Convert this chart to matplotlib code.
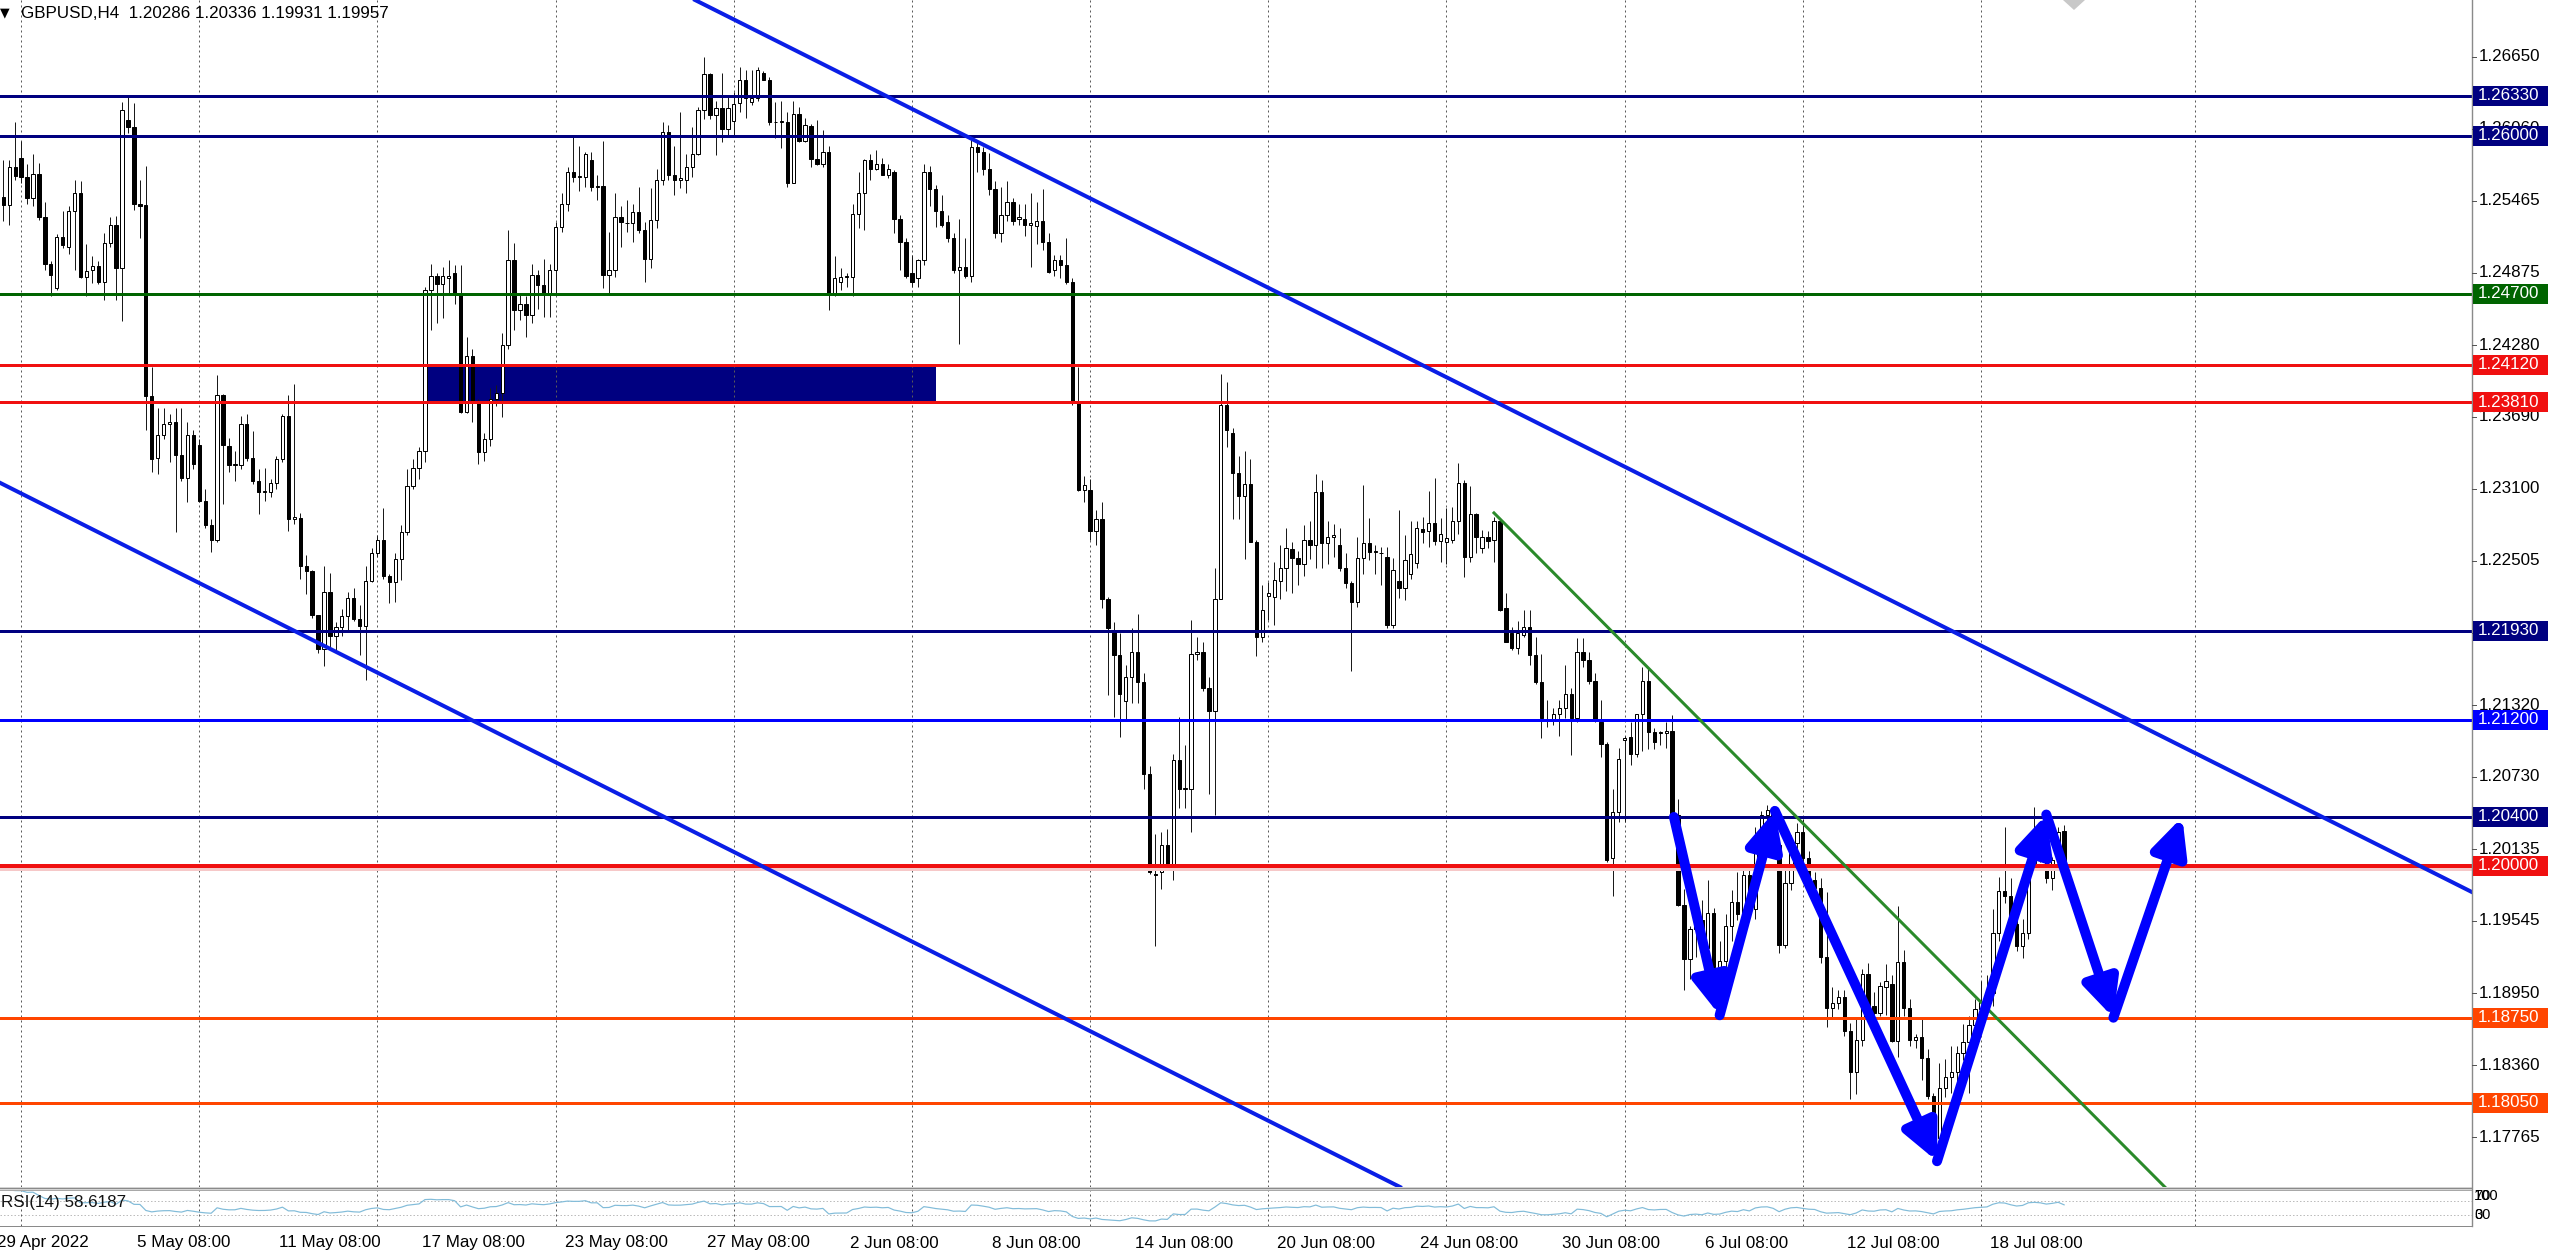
#!/usr/bin/python

import numpy as np
import pandas as pd
import matplotlib
matplotlib.use('Agg')
import matplotlib.pyplot as plt
import matplotlib.patches as ptc
import matplotlib.transforms as mtrans
from matplotlib.lines import Line2D

plt.rcParams['font.family'] = ['Liberation Sans', 'DejaVu Sans']

# GBPUSD H4 bars, oldest first (29 Apr 2022 .. 20 Jul 2022)
bar_open = [
    1.2550, 1.2543, 1.2574, 1.2582, 1.2566, 1.2549, 1.2569, 1.2533, 1.2495, 1.2475,
    1.2517, 1.2509, 1.2538, 1.2553, 1.2484, 1.2490, 1.2493, 1.2480, 1.2512, 1.2527,
    1.2491, 1.2613, 1.2607, 1.2544, 1.2543, 1.2386, 1.2335, 1.2354, 1.2363, 1.2365,
    1.2338, 1.2319, 1.2354, 1.2346, 1.2300, 1.2280, 1.2268, 1.2387, 1.2345, 1.2329,
    1.2329, 1.2363, 1.2335, 1.2316, 1.2307, 1.2307, 1.2315, 1.2334, 1.2370, 1.2285,
    1.2286, 1.2246, 1.2242, 1.2206, 1.2178, 1.2225, 1.2189, 1.2196, 1.2205, 1.2220,
    1.2203, 1.2197, 1.2234, 1.2257, 1.2268, 1.2238, 1.2233, 1.2252, 1.2274, 1.2312,
    1.2327, 1.2341, 1.2473, 1.2485, 1.2478, 1.2483, 1.2487, 1.2471, 1.2373, 1.2419,
    1.2380, 1.2340, 1.2351, 1.2384, 1.2389, 1.2428, 1.2498, 1.2457, 1.2462, 1.2453,
    1.2486, 1.2477, 1.2471, 1.2490, 1.2525, 1.2544, 1.2570, 1.2566, 1.2566, 1.2580,
    1.2558, 1.2559, 1.2486, 1.2490, 1.2533, 1.2528, 1.2528, 1.2537, 1.2523, 1.2499,
    1.2531, 1.2564, 1.2603, 1.2568, 1.2564, 1.2564, 1.2574, 1.2585, 1.2621, 1.2651,
    1.2617, 1.2623, 1.2606, 1.2612, 1.2627, 1.2646, 1.2628, 1.2631, 1.2652, 1.2646,
    1.2611, 1.2611, 1.2611, 1.2561, 1.2618, 1.2596, 1.2608, 1.2581, 1.2577, 1.2587,
    1.2471, 1.2480, 1.2484, 1.2484, 1.2536, 1.2553, 1.2580, 1.2573, 1.2577, 1.2568,
    1.2570, 1.2532, 1.2513, 1.2487, 1.2483, 1.2498, 1.2570, 1.2556, 1.2538, 1.2529,
    1.2516, 1.2490, 1.2492, 1.2485, 1.2591, 1.2587, 1.2573, 1.2556, 1.2520, 1.2535,
    1.2546, 1.2532, 1.2532, 1.2527, 1.2526, 1.2530, 1.2513, 1.2490, 1.2498, 1.2494,
    1.2480, 1.2381, 1.2309, 1.2309, 1.2275, 1.2285, 1.2219, 1.2193, 1.2173, 1.2135,
    1.2155, 1.2176, 1.2151, 1.2075, 1.1993, 1.1995, 1.2017, 1.2000, 1.2087, 1.2063,
    1.2063, 1.2174, 1.2176, 1.2146, 1.2127, 1.2219, 1.2379, 1.2356, 1.2323, 1.2304,
    1.2314, 1.2266, 1.2188, 1.2222, 1.2221, 1.2234, 1.2245, 1.2260, 1.2253, 1.2248,
    1.2268, 1.2264, 1.2307, 1.2265, 1.2270, 1.2264, 1.2245, 1.2232, 1.2217, 1.2253,
    1.2265, 1.2258, 1.2257, 1.2254, 1.2198, 1.2234, 1.2228, 1.2240, 1.2249, 1.2277,
    1.2275, 1.2282, 1.2267, 1.2266, 1.2268, 1.2283, 1.2315, 1.2254, 1.2289, 1.2261,
    1.2270, 1.2268, 1.2283, 1.2212, 1.2191, 1.2179, 1.2190, 1.2196, 1.2173, 1.2151,
    1.2119, 1.2120, 1.2125, 1.2130, 1.2141, 1.2121, 1.2176, 1.2169, 1.2152, 1.2118,
    1.2100, 1.2006, 1.2044, 1.2103, 1.2106, 1.2092, 1.2125, 1.2152, 1.2110, 1.2109,
    1.2109, 1.2111, 1.2042, 1.1968, 1.1923, 1.1948, 1.1955, 1.1932, 1.1961, 1.1917,
    1.1922, 1.1950, 1.1970, 1.1960, 1.1992, 1.1964, 1.2021, 1.2042, 1.2046, 1.2017,
    1.1935, 1.1986, 1.2019, 1.2028, 1.2006, 1.1988, 1.1982, 1.1925, 1.1883, 1.1887,
    1.1892, 1.1864, 1.1830, 1.1857, 1.1911, 1.1885, 1.1879, 1.1900, 1.1903, 1.1856,
    1.1921, 1.1883, 1.1857, 1.1859, 1.1842, 1.1811, 1.1776, 1.1817, 1.1826, 1.1830,
    1.1846, 1.1855, 1.1869, 1.1882, 1.1888, 1.1895, 1.1945, 1.1979, 1.1975, 1.1952,
    1.1934, 1.1945, 1.2002, 1.2012, 1.2007, 1.1990, 1.2005, 1.20286,
]
bar_high = [
    1.2580, 1.2580, 1.2611, 1.2596, 1.2577, 1.2585, 1.2578, 1.2546, 1.2497, 1.2519,
    1.2538, 1.2542, 1.2564, 1.2563, 1.2511, 1.2501, 1.2497, 1.2520, 1.2533, 1.2534,
    1.2628, 1.2634, 1.2627, 1.2564, 1.2575, 1.2410, 1.2376, 1.2376, 1.2371, 1.2376,
    1.2376, 1.2365, 1.2358, 1.2351, 1.2310, 1.2285, 1.2403, 1.2388, 1.2352, 1.2341,
    1.2370, 1.2371, 1.2357, 1.2326, 1.2327, 1.2318, 1.2337, 1.2371, 1.2387, 1.2396,
    1.2290, 1.2255, 1.2243, 1.2206, 1.2246, 1.2241, 1.2200, 1.2211, 1.2225, 1.2228,
    1.2214, 1.2246, 1.2261, 1.2272, 1.2294, 1.2240, 1.2257, 1.2280, 1.2326, 1.2334,
    1.2344, 1.2476, 1.2495, 1.2487, 1.2492, 1.2498, 1.2494, 1.2494, 1.2435, 1.2425,
    1.2384, 1.2356, 1.2393, 1.2395, 1.2438, 1.2523, 1.2512, 1.2471, 1.2468, 1.2495,
    1.2490, 1.2499, 1.2495, 1.2529, 1.2553, 1.2574, 1.2599, 1.2592, 1.2587, 1.2587,
    1.2568, 1.2596, 1.2521, 1.2553, 1.2542, 1.2547, 1.2544, 1.2558, 1.2529, 1.2557,
    1.2573, 1.2611, 1.2609, 1.2592, 1.2620, 1.2585, 1.2607, 1.2624, 1.2665, 1.2652,
    1.2629, 1.2652, 1.2632, 1.2636, 1.2657, 1.2654, 1.2654, 1.2657, 1.2653, 1.2648,
    1.2628, 1.2629, 1.2620, 1.2629, 1.2624, 1.2615, 1.2610, 1.2613, 1.2605, 1.2592,
    1.2501, 1.2491, 1.2487, 1.2544, 1.2570, 1.2581, 1.2585, 1.2588, 1.2582, 1.2577,
    1.2572, 1.2535, 1.2516, 1.2502, 1.2499, 1.2577, 1.2575, 1.2560, 1.2551, 1.2535,
    1.2520, 1.2532, 1.2516, 1.2600, 1.2596, 1.2591, 1.2586, 1.2563, 1.2558, 1.2563,
    1.2549, 1.2544, 1.2544, 1.2553, 1.2546, 1.2556, 1.2520, 1.2502, 1.2502, 1.2516,
    1.2483, 1.2410, 1.2320, 1.2318, 1.2292, 1.2299, 1.2221, 1.2200, 1.2191, 1.2165,
    1.2195, 1.2207, 1.2158, 1.2082, 1.2026, 1.2028, 1.2030, 1.2092, 1.2122, 1.2099,
    1.2202, 1.2188, 1.2184, 1.2155, 1.2245, 1.2404, 1.2398, 1.2360, 1.2337, 1.2341,
    1.2334, 1.2268, 1.2231, 1.2233, 1.2250, 1.2264, 1.2278, 1.2266, 1.2259, 1.2280,
    1.2283, 1.2322, 1.2317, 1.2283, 1.2281, 1.2278, 1.2257, 1.2234, 1.2270, 1.2313,
    1.2286, 1.2264, 1.2262, 1.2262, 1.2253, 1.2292, 1.2272, 1.2283, 1.2283, 1.2287,
    1.2308, 1.2319, 1.2286, 1.2294, 1.2295, 1.2331, 1.2317, 1.2312, 1.2290, 1.2276,
    1.2275, 1.2287, 1.2286, 1.2224, 1.2196, 1.2201, 1.2210, 1.2210, 1.2188, 1.2174,
    1.2136, 1.2130, 1.2136, 1.2165, 1.2146, 1.2187, 1.2187, 1.2176, 1.2158, 1.2136,
    1.2102, 1.2063, 1.2097, 1.2107, 1.2118, 1.2125, 1.2163, 1.2162, 1.2113, 1.2111,
    1.2118, 1.2124, 1.2055, 1.1981, 1.1950, 1.1972, 1.1972, 1.1988, 1.1965, 1.1938,
    1.1960, 1.1980, 1.1995, 1.1998, 1.2000, 1.2032, 1.2045, 1.2050, 1.2049, 1.2022,
    1.1997, 1.2025, 1.2035, 1.2038, 1.2012, 1.1995, 1.1990, 1.1978, 1.1900, 1.1898,
    1.1898, 1.1871, 1.1874, 1.1915, 1.1920, 1.1896, 1.1904, 1.1919, 1.1910, 1.1967,
    1.1931, 1.1890, 1.1862, 1.1875, 1.1849, 1.1813, 1.1838, 1.1841, 1.1852, 1.1852,
    1.1870, 1.1876, 1.1890, 1.1905, 1.1910, 1.1964, 1.1991, 1.2032, 1.1990, 1.1956,
    1.1956, 1.2010, 1.2048, 1.2018, 1.2012, 1.2007, 1.2032, 1.20336,
]
bar_low = [
    1.2530, 1.2527, 1.2564, 1.2561, 1.2544, 1.2542, 1.2531, 1.2490, 1.2468, 1.2473,
    1.2508, 1.2503, 1.2490, 1.2483, 1.2468, 1.2479, 1.2478, 1.2465, 1.2509, 1.2465,
    1.2448, 1.2602, 1.2539, 1.2516, 1.2358, 1.2324, 1.2322, 1.2351, 1.2332, 1.2274,
    1.2316, 1.2299, 1.2326, 1.2299, 1.2278, 1.2258, 1.2266, 1.2297, 1.2324, 1.2316,
    1.2326, 1.2333, 1.2314, 1.2289, 1.2300, 1.2303, 1.2310, 1.2332, 1.2275, 1.2281,
    1.2236, 1.2223, 1.2204, 1.2175, 1.2164, 1.2178, 1.2175, 1.2189, 1.2192, 1.2201,
    1.2173, 1.2153, 1.2233, 1.2254, 1.2236, 1.2216, 1.2217, 1.2235, 1.2272, 1.2310,
    1.2318, 1.2332, 1.2440, 1.2446, 1.2450, 1.2470, 1.2462, 1.2372, 1.2372, 1.2365,
    1.2330, 1.2333, 1.2345, 1.2378, 1.2369, 1.2425, 1.2440, 1.2449, 1.2435, 1.2446,
    1.2458, 1.2451, 1.2451, 1.2471, 1.2521, 1.2538, 1.2562, 1.2555, 1.2558, 1.2555,
    1.2547, 1.2475, 1.2471, 1.2484, 1.2509, 1.2521, 1.2513, 1.2520, 1.2480, 1.2491,
    1.2524, 1.2560, 1.2564, 1.2551, 1.2557, 1.2553, 1.2566, 1.2584, 1.2614, 1.2614,
    1.2584, 1.2595, 1.2599, 1.2600, 1.2620, 1.2615, 1.2625, 1.2629, 1.2646, 1.2609,
    1.2598, 1.2590, 1.2558, 1.2561, 1.2595, 1.2595, 1.2574, 1.2576, 1.2574, 1.2457,
    1.2468, 1.2473, 1.2476, 1.2468, 1.2524, 1.2523, 1.2564, 1.2572, 1.2568, 1.2565,
    1.2520, 1.2490, 1.2483, 1.2476, 1.2476, 1.2494, 1.2542, 1.2525, 1.2525, 1.2513,
    1.2487, 1.2429, 1.2483, 1.2480, 1.2570, 1.2568, 1.2551, 1.2516, 1.2513, 1.2530,
    1.2527, 1.2527, 1.2518, 1.2492, 1.2511, 1.2506, 1.2487, 1.2485, 1.2483, 1.2478,
    1.2379, 1.2308, 1.2299, 1.2268, 1.2264, 1.2212, 1.2140, 1.2122, 1.2106, 1.2120,
    1.2134, 1.2134, 1.2063, 1.1993, 1.1934, 1.1981, 1.1997, 1.1988, 1.2047, 1.2047,
    1.2028, 1.2169, 1.2144, 1.2059, 1.2042, 1.2219, 1.2344, 1.2285, 1.2285, 1.2252,
    1.2266, 1.2172, 1.2184, 1.2202, 1.2198, 1.2219, 1.2226, 1.2224, 1.2231, 1.2238,
    1.2252, 1.2245, 1.2245, 1.2248, 1.2254, 1.2242, 1.2228, 1.2160, 1.2213, 1.2240,
    1.2251, 1.2240, 1.2231, 1.2195, 1.2195, 1.2220, 1.2218, 1.2236, 1.2245, 1.2265,
    1.2262, 1.2264, 1.2250, 1.2248, 1.2265, 1.2273, 1.2237, 1.2250, 1.2257, 1.2257,
    1.2261, 1.2250, 1.2209, 1.2184, 1.2177, 1.2174, 1.2188, 1.2165, 1.2149, 1.2105,
    1.2114, 1.2116, 1.2107, 1.2121, 1.2091, 1.2118, 1.2163, 1.2149, 1.2118, 1.2089,
    1.2003, 1.1975, 1.2036, 1.2036, 1.2083, 1.2089, 1.2094, 1.2096, 1.2096, 1.2099,
    1.2097, 1.2041, 1.1967, 1.1898, 1.1907, 1.1925, 1.1928, 1.1921, 1.1902, 1.1900,
    1.1904, 1.1938, 1.1955, 1.1952, 1.1960, 1.1956, 1.2014, 1.2030, 1.2014, 1.1928,
    1.1932, 1.1980, 1.2010, 1.2002, 1.1984, 1.1978, 1.1920, 1.1867, 1.1875, 1.1882,
    1.1860, 1.1808, 1.1812, 1.1852, 1.1883, 1.1876, 1.1876, 1.1877, 1.1855, 1.1843,
    1.1876, 1.1852, 1.1850, 1.1824, 1.1808, 1.1768, 1.1760, 1.1810, 1.1813, 1.1808,
    1.1840, 1.1813, 1.1860, 1.1875, 1.1880, 1.1885, 1.1938, 1.1969, 1.1948, 1.1930,
    1.1924, 1.1940, 1.1998, 1.2003, 1.1986, 1.1980, 1.1998, 1.19931,
]
bar_close = [
    1.2543, 1.2574, 1.2567, 1.2566, 1.2549, 1.2569, 1.2533, 1.2495, 1.2486, 1.2517,
    1.2510, 1.2538, 1.2553, 1.2484, 1.2489, 1.2493, 1.2480, 1.2512, 1.2527, 1.2491,
    1.2621, 1.2607, 1.2544, 1.2542, 1.2386, 1.2334, 1.2354, 1.2363, 1.2365, 1.2338,
    1.2319, 1.2354, 1.2330, 1.2300, 1.2280, 1.2268, 1.2387, 1.2346, 1.2329, 1.2330,
    1.2363, 1.2335, 1.2316, 1.2307, 1.2308, 1.2315, 1.2334, 1.2370, 1.2285, 1.2287,
    1.2246, 1.2242, 1.2206, 1.2178, 1.2225, 1.2189, 1.2196, 1.2205, 1.2220, 1.2203,
    1.2197, 1.2234, 1.2257, 1.2268, 1.2238, 1.2233, 1.2252, 1.2274, 1.2312, 1.2327,
    1.2341, 1.2473, 1.2485, 1.2478, 1.2485, 1.2485, 1.2471, 1.2373, 1.2419, 1.2380,
    1.2340, 1.2351, 1.2384, 1.2389, 1.2428, 1.2498, 1.2457, 1.2462, 1.2453, 1.2486,
    1.2477, 1.2471, 1.2490, 1.2525, 1.2544, 1.2570, 1.2566, 1.2567, 1.2585, 1.2558,
    1.2559, 1.2486, 1.2490, 1.2533, 1.2529, 1.2528, 1.2537, 1.2523, 1.2499, 1.2531,
    1.2564, 1.2603, 1.2568, 1.2564, 1.2565, 1.2574, 1.2585, 1.2621, 1.2651, 1.2617,
    1.2623, 1.2606, 1.2623, 1.2626, 1.2646, 1.2631, 1.2631, 1.2654, 1.2646, 1.2611,
    1.2611, 1.2612, 1.2561, 1.2618, 1.2596, 1.2609, 1.2581, 1.2577, 1.2587, 1.2471,
    1.2483, 1.2484, 1.2485, 1.2536, 1.2553, 1.2580, 1.2573, 1.2577, 1.2568, 1.2573,
    1.2532, 1.2513, 1.2485, 1.2480, 1.2498, 1.2570, 1.2556, 1.2538, 1.2527, 1.2516,
    1.2490, 1.2492, 1.2485, 1.2591, 1.2587, 1.2573, 1.2556, 1.2520, 1.2535, 1.2546,
    1.2530, 1.2533, 1.2527, 1.2528, 1.2530, 1.2513, 1.2488, 1.2498, 1.2494, 1.2480,
    1.2381, 1.2309, 1.2313, 1.2275, 1.2285, 1.2219, 1.2195, 1.2173, 1.2141, 1.2155,
    1.2176, 1.2151, 1.2075, 1.1995, 1.1992, 1.2017, 1.2000, 1.2087, 1.2063, 1.2064,
    1.2174, 1.2176, 1.2146, 1.2127, 1.2219, 1.2379, 1.2358, 1.2323, 1.2304, 1.2314,
    1.2266, 1.2188, 1.2210, 1.2224, 1.2235, 1.2245, 1.2261, 1.2253, 1.2248, 1.2268,
    1.2264, 1.2307, 1.2265, 1.2270, 1.2272, 1.2245, 1.2232, 1.2217, 1.2253, 1.2265,
    1.2258, 1.2259, 1.2257, 1.2198, 1.2243, 1.2228, 1.2251, 1.2256, 1.2278, 1.2274,
    1.2282, 1.2267, 1.2273, 1.2269, 1.2283, 1.2315, 1.2254, 1.2289, 1.2270, 1.2270,
    1.2267, 1.2283, 1.2210, 1.2184, 1.2179, 1.2191, 1.2196, 1.2173, 1.2151, 1.2121,
    1.2120, 1.2125, 1.2130, 1.2141, 1.2121, 1.2176, 1.2169, 1.2152, 1.2119, 1.2100,
    1.2005, 1.2044, 1.2088, 1.2105, 1.2092, 1.2125, 1.2152, 1.2110, 1.2102, 1.2110,
    1.2111, 1.2042, 1.1968, 1.1923, 1.1948, 1.1955, 1.1932, 1.1961, 1.1917, 1.1922,
    1.1950, 1.1970, 1.1960, 1.1992, 1.1964, 1.2021, 1.2042, 1.2046, 1.2017, 1.1935,
    1.1986, 1.2019, 1.2028, 1.2006, 1.1988, 1.1982, 1.1925, 1.1883, 1.1887, 1.1892,
    1.1864, 1.1830, 1.1857, 1.1911, 1.1884, 1.1879, 1.1901, 1.1905, 1.1856, 1.1921,
    1.1883, 1.1857, 1.1859, 1.1842, 1.1811, 1.1776, 1.1817, 1.1826, 1.1830, 1.1846,
    1.1855, 1.1869, 1.1882, 1.1888, 1.1895, 1.1945, 1.1979, 1.1975, 1.1952, 1.1934,
    1.1945, 1.2002, 1.2012, 1.2006, 1.1990, 1.2005, 1.2028, 1.19957,
]

symbol_caption = 'GBPUSD,H4'
last_bar_text = ['1.20286', '1.20336', '1.19931', '1.19957']
rsi_caption = 'RSI(14) 58.6187'
rsi_period = 14
rsi_levels = [70, 30]

first_time_label = '29 Apr 2022'
time_label_bars = [22, 46, 70, 94, 118, 142, 166, 190, 214, 238, 262, 286, 310, 334]
time_label_texts = ['5 May 08:00', '11 May 08:00', '17 May 08:00', '23 May 08:00',
                    '27 May 08:00', '2 Jun 08:00', '8 Jun 08:00', '14 Jun 08:00',
                    '20 Jun 08:00', '24 Jun 08:00', '30 Jun 08:00', '6 Jul 08:00',
                    '12 Jul 08:00', '18 Jul 08:00']
grid_bars = [3, 33, 63, 93, 123, 153, 183, 213, 243, 273, 303, 333, 369]

price_ticks = [1.26650, 1.26060, 1.25465, 1.24875, 1.24280, 1.23690, 1.23100, 1.22505,
               1.21910, 1.21320, 1.20730, 1.20135, 1.19545, 1.18950, 1.18360, 1.17765]

# horizontal levels drawn on the chart
level_prices = [1.26330, 1.26000, 1.24700, 1.24120, 1.23810, 1.21930,
                1.21200, 1.20400, 1.20000, 1.18750, 1.18050]
level_colors = ['#000080', '#000080', '#006400', '#f01010', '#f01010', '#000080',
                '#0000ff', '#000080', '#f01010', '#ff4500', '#ff4500']
level_width_px = [3, 3, 3, 3, 3, 3, 3, 3, 4, 3, 3]

# supply zone rectangle (bar index range, price range)
zone_bars = [71.3, 157.0]
zone_prices = [1.23810, 1.24120]

# trend lines as (bar index, price) anchors
channel_upper = [(100, 1.27521), (400, 1.20167)]
channel_lower = [(0, 1.23134), (300, 1.15766)]
green_trend = [(251, 1.22900), (362.8, 1.17415)]

# hand drawn zigzag arrows
zigzag_bars = [281.3, 289.0, 298.3, 325.6, 344.0, 355.3, 366.9]
zigzag_prices = [1.2040, 1.1877, 1.2045, 1.1757, 1.2042, 1.1875, 1.2040]

# ---- layout (pixels of the 2560x1251 picture) ----
W, H = 2560, 1251
AX_RIGHT = 2472
MAIN_BOTTOM = 1187
RSI_TOP, RSI_BOTTOM = 1190, 1226
X_LIM = (-0.556, 415.68)
Y_LIM = (1.17358, 1.27117)
PT = 0.72  # points per pixel at dpi 100
FS = 17 * PT


def fx(px):
    return px / W


def fy(py):
    return 1.0 - py / H


fig = plt.figure(figsize=(W / 100, H / 100), dpi=100)
fig.patch.set_facecolor('white')

ax = fig.add_axes([0, fy(MAIN_BOTTOM), fx(AX_RIGHT), MAIN_BOTTOM / H])
rsi_ax = fig.add_axes([0, fy(RSI_BOTTOM), fx(AX_RIGHT), (RSI_BOTTOM - RSI_TOP) / H])
for a in (ax, rsi_ax):
    a.set_xlim(*X_LIM)
    a.set_xticks([])
    a.set_yticks([])
    for s in a.spines.values():
        s.set_visible(False)
    a.patch.set_alpha(0)
ax.set_ylim(*Y_LIM)
rsi_ax.set_ylim(0, 100)

# vertical dotted grid
for b in grid_bars:
    for a in (ax, rsi_ax):
        a.axvline(b, color='#5a5a5a', lw=1 * PT, ls=(0, (2, 3)), zorder=1.5)

# zone
ax.add_patch(ptc.Rectangle((zone_bars[0], zone_prices[0]), zone_bars[1] - zone_bars[0],
                           zone_prices[1] - zone_prices[0], facecolor='#000080',
                           edgecolor='none', zorder=1))

# candles
n = min(len(bar_open), len(bar_high), len(bar_low), len(bar_close))
o = np.array(bar_open[:n])
h = np.array(bar_high[:n])
l = np.array(bar_low[:n])
c = np.array(bar_close[:n])
idx = np.arange(n)
up = c >= o
ax.vlines(idx, np.minimum(l, np.minimum(o, c)), np.maximum(h, np.maximum(o, c)),
          color='#1a1a1a', lw=1 * PT, zorder=2)
body_lo = np.minimum(o, c)
body_h = np.maximum(np.abs(c - o), 0.000012)
ax.bar(idx[up], body_h[up], bottom=body_lo[up], width=0.56, color='white',
       edgecolor='black', lw=1 * PT, zorder=2.2)
ax.bar(idx[~up], body_h[~up], bottom=body_lo[~up], width=0.56, color='black',
       edgecolor='black', lw=1 * PT, zorder=2.2)

# levels
ax.axhline(1.19972, color='#f6c8c8', lw=3 * PT, zorder=2.9)
for p, col, w in zip(level_prices, level_colors, level_width_px):
    ax.axhline(p, color=col, lw=w * PT, zorder=3)

# channel and trend lines
ax.axline(channel_upper[0], channel_upper[1], color='#0a1ee6', lw=4 * PT, zorder=3.5)
ax.axline(channel_lower[0], channel_lower[1], color='#0a1ee6', lw=4 * PT, zorder=3.5)
(gx0, gy0), (gx1, gy1) = green_trend
g_slope = (gy1 - gy0) / (gx1 - gx0)
ax.plot([gx0, X_LIM[1]], [gy0, gy0 + g_slope * (X_LIM[1] - gx0)],
        color='#2a8a2a', lw=3 * PT, zorder=3.5)

# zigzag arrows
for k in range(len(zigzag_bars) - 1):
    arr = ptc.FancyArrowPatch((zigzag_bars[k], zigzag_prices[k]),
                              (zigzag_bars[k + 1], zigzag_prices[k + 1]),
                              arrowstyle='-|>,head_length=2.2,head_width=1.05',
                              mutation_scale=10, lw=10 * PT, color='#0000ff',
                              shrinkA=0, shrinkB=0, capstyle='round',
                              joinstyle='round', zorder=5)
    ax.add_patch(arr)

# RSI
close_s = pd.Series(c)
delta = close_s.diff()
avg_gain = delta.clip(lower=0).ewm(alpha=1.0 / rsi_period, adjust=False).mean()
avg_loss = (-delta.clip(upper=0)).ewm(alpha=1.0 / rsi_period, adjust=False).mean()
rsi = 100 - 100 / (1 + avg_gain / avg_loss)
for lv in rsi_levels:
    rsi_ax.axhline(lv, color='#bdbdbd', lw=1 * PT, ls=(0, (1.5, 2)), zorder=1)
rsi_ax.plot(idx, rsi.values, color='#82bcd9', lw=1.2 * PT, zorder=3)

# frame pieces
fig.add_artist(ptc.Rectangle((0, fy(1190)), fx(AX_RIGHT), (1190 - 1187) / H,
                             transform=fig.transFigure, facecolor='#d4d4d4',
                             edgecolor='none', zorder=1))
fig.add_artist(Line2D([0, fx(AX_RIGHT)], [fy(1187.5)] * 2, color='#8a8a8a', lw=1 * PT, zorder=1.1))
fig.add_artist(Line2D([0, fx(AX_RIGHT)], [fy(1190)] * 2, color='#a8a8a8', lw=1 * PT, zorder=1.1))
fig.add_artist(Line2D([0, fx(AX_RIGHT)], [fy(RSI_BOTTOM)] * 2, color='#8a8a8a', lw=1 * PT, zorder=1.1))
fig.add_artist(Line2D([fx(AX_RIGHT)] * 2, [fy(RSI_BOTTOM), 1], color='#8a8a8a', lw=1.4 * PT, zorder=1.2))

# price scale
blend_y = mtrans.blended_transform_factory(fig.transFigure, ax.transData)
px_price = (Y_LIM[1] - Y_LIM[0]) / MAIN_BOTTOM
for p in price_ticks:
    fig.add_artist(Line2D([fx(AX_RIGHT), fx(AX_RIGHT + 4)], [p, p], transform=blend_y,
                          color='#555555', lw=1 * PT, zorder=2))
    fig.text(fx(2479), p, f'{p:.5f}', transform=blend_y, ha='left', va='center',
             fontsize=FS, color='black', zorder=2)
for p, col in zip(level_prices, level_colors):
    fig.add_artist(ptc.Rectangle((fx(AX_RIGHT + 1), p - 10 * px_price), fx(2548) - fx(AX_RIGHT + 1),
                                 20 * px_price, transform=blend_y, facecolor=col,
                                 edgecolor='none', zorder=3))
    fig.text(fx(2478), p, f'{p:.5f}', transform=blend_y, ha='left', va='center',
             fontsize=FS, color='white', zorder=4)

# RSI scale labels (they overlap in the small window, as in the terminal)
fig.text(fx(2474), fy(1196), '100', ha='left', va='center', fontsize=10.5, color='black')
fig.text(fx(2474), fy(1196), '70', ha='left', va='center', fontsize=10.5, color='black')
fig.text(fx(2474), fy(1215), '30', ha='left', va='center', fontsize=10.5, color='black')
fig.text(fx(2474), fy(1215), '0', ha='left', va='center', fontsize=10.5, color='black')
fig.text(fx(1), fy(1203), rsi_caption, ha='left', va='center', fontsize=FS, color='#111111', zorder=5)

# time labels
blend_x = mtrans.blended_transform_factory(ax.transData, fig.transFigure)
fig.text(fx(-3), fy(1243), first_time_label, ha='left', va='center', fontsize=FS, color='black')
for b, t in zip(time_label_bars, time_label_texts):
    fig.text(b + 0.5, fy(1243), t, transform=blend_x, ha='left', va='center',
             fontsize=FS, color='black')

# title
fig.text(fx(0), fy(13), '\u25bc', ha='left', va='center', fontsize=9,
         family=['DejaVu Sans'], color='black', zorder=6)
fig.text(fx(21), fy(13), symbol_caption + '  ' + ' '.join(last_bar_text), ha='left',
         va='center', fontsize=FS, color='black', zorder=6)

# chart shift marker at the top
fig.add_artist(ptc.Polygon([(fx(2063), 1.0), (fx(2085), 1.0), (fx(2074), fy(10))],
                           closed=True, transform=fig.transFigure, facecolor='#c8c8c8',
                           edgecolor='none', zorder=2))

fig.savefig('out.png', dpi=100)
